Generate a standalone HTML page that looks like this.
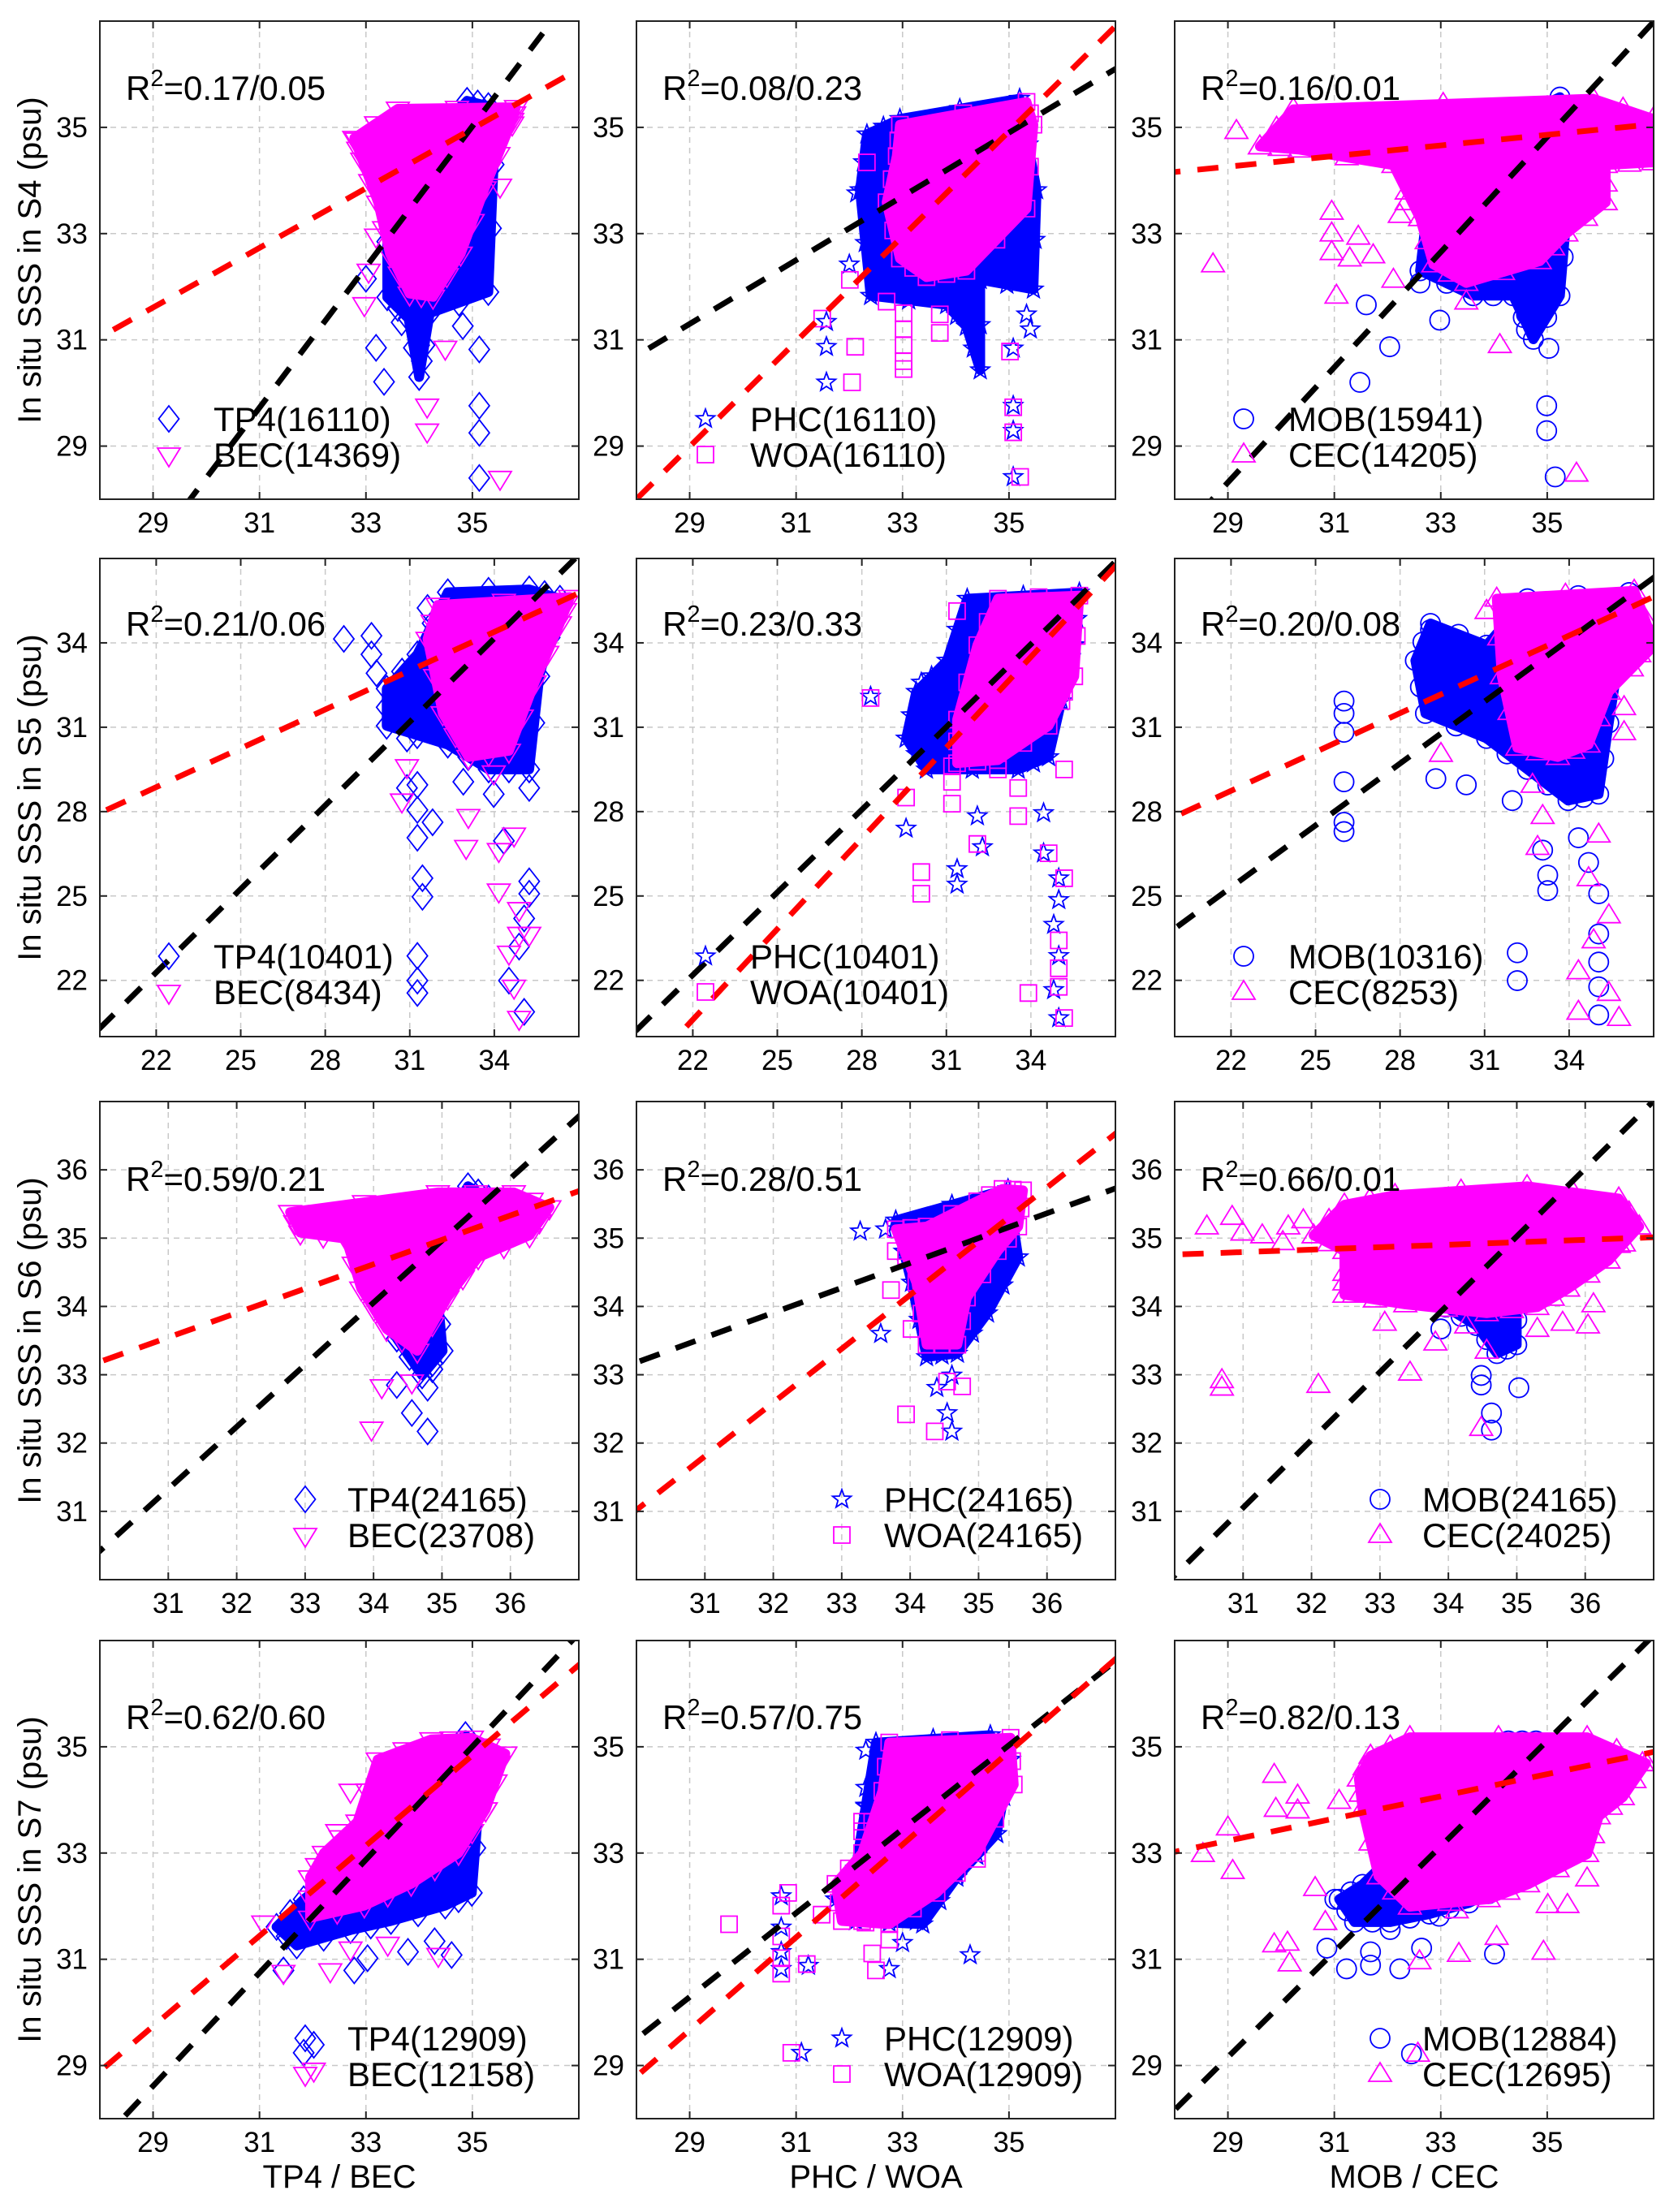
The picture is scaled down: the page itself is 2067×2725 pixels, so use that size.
<!DOCTYPE html>
<html><head><meta charset="utf-8"><title>SSS scatter comparison</title>
<style>
html,body{margin:0;padding:0;background:#fff;}
svg{display:block;font-family:"Liberation Sans",Arial,sans-serif;}
</style></head>
<body>
<svg id="fig" xmlns="http://www.w3.org/2000/svg" width="2067" height="2725" viewBox="0 0 2067 2725"></svg>
<script>
// ---------- axis ranges / ticks per row ----------
const rowRanges = [[28,37],[20,37],[30,37],[28,37]];
const rowTicks = [[29,31,33,35],[22,25,28,31,34],[31,32,33,34,35,36],[29,31,33,35]];
const rowLabels = ["S4","S5","S6","S7"];
const colTitles = ["TP4 / BEC","PHC / WOA","MOB / CEC"];
const colSeries = [["TP4","BEC"],["PHC","WOA"],["MOB","CEC"]];
const colMarkers = [["diamond","tridown"],["star","square"],["circle","triup"]];
const r2Values = [["0.17/0.05","0.08/0.23","0.16/0.01"],["0.21/0.06","0.23/0.33","0.20/0.08"],["0.59/0.21","0.28/0.51","0.66/0.01"],["0.62/0.60","0.57/0.75","0.82/0.13"]];
const counts = [[[16110,14369],[16110,16110],[15941,14205]],[[10401,8434],[10401,10401],[10316,8253]],[[24165,23708],[24165,24165],[24165,24025]],[[12909,12158],[12909,12909],[12884,12695]]];
// regression lines: [slope, intercept]
const blackFits = [[[1.324,-11.32],[0.6,13.9],[1.084,-3.12]],[[0.99,0.5],[0.98,0.63],[0.734,9.16]],[[0.909,3.15],[0.364,22.26],[0.993,0.27]],[[1.065,-2.27],[0.79,7.38],[0.993,0.36]]];
const redFits = [[[0.561,15.34],[0.989,0.31],[0.1,31.36]],[[0.46,18.75],[1.075,-3.05],[0.46,18.62]],[[0.357,22.48],[0.787,7.41],[0.036,33.68]],[[0.85,5.09],[0.873,4.35],[0.209,27.17]]];

// ---------- point data (x = product, y = in situ) ----------
const p11BlueCore=[[33.4,33.9],[34.9,35.5],[35.3,35.4],[35.4,34.3],[35.3,31.9],[34.2,31.5],[34.0,30.3],[33.8,31.4],[33.4,31.8]];
const p11MagCore=[[32.78,34.8],[33.6,35.35],[35.82,35.38],[35.75,35.14],[35.23,33.85],[34.78,32.62],[34.26,31.81],[33.82,31.87],[33.45,32.62],[33.23,33.58],[32.93,34.39]];
const p11Blue=[[33.19,30.85],[33.34,30.21],[35.13,30.82],[35.13,29.76],[35.13,29.25],[35.13,28.4],[33.0,32.15],[33.67,31.33],[34.82,31.26],[34.34,31.74],[34.05,30.6],[34.0,30.9]];
const p11Mag=[[32.97,31.67],[32.82,34.77],[34.49,30.85],[34.15,29.76],[34.15,29.29],[35.52,28.4],[35.75,35.07],[35.52,33.9],[33.19,32.96],[33.05,32.3]];
const p12BlueCore=[[32.33,34.87],[32.95,35.16],[35.2,35.54],[35.52,33.82],[35.46,31.95],[34.46,32.13],[34.46,30.43],[34.2,31.25],[33.83,31.66],[32.4,31.83],[32.2,33.82]];
const p12MagCore=[[32.95,35.05],[35.33,35.48],[35.46,35.05],[35.33,33.47],[34.2,32.3],[33.45,32.18],[32.95,32.53],[32.7,33.59],[32.89,34.46]];
const p12Blue=[[31.57,31.34],[31.57,30.87],[31.57,30.2],[35.08,30.84],[35.08,29.76],[35.08,29.29],[35.08,28.42],[35.33,31.48],[32.0,32.42],[32.14,33.76],[34.02,31.69],[35.4,31.2]];
const p12Mag=[[31.49,31.4],[32.11,30.87],[32.05,30.2],[33.02,31.5],[33.02,31.2],[33.02,30.9],[33.02,30.6],[33.02,30.45],[33.7,31.13],[33.7,31.48],[35.21,28.42],[35.08,29.73],[35.08,29.26],[35.02,30.78],[32.33,34.34],[32.01,32.13],[32.7,31.72]];
const p13BlueCore=[[32.86,34.46],[35.24,35.57],[35.36,33.29],[35.24,31.83],[34.74,31.01],[34.36,31.83],[33.61,31.83],[32.61,32.3]];
const p13MagCore=[[30.23,35.34],[35.86,35.54],[36.99,35.16],[36.99,34.34],[36.1,34.29],[36.1,33.59],[35.36,33.0],[34.86,32.48],[33.48,32.07],[32.86,32.42],[32.61,33.29],[32.11,34.29],[30.35,34.58],[29.6,34.64]];
const p13Blue=[[31.6,31.66],[32.04,30.87],[31.48,30.2],[32.98,31.37],[34.99,29.76],[34.99,29.29],[35.15,28.42],[35.03,30.84],[32.61,32.07],[34.61,31.48],[34.61,31.19]];
const p13Mag=[[28.72,32.42],[29.16,34.93],[30.95,33.41],[30.95,33.0],[30.95,32.65],[31.45,32.94],[31.29,32.53],[31.73,32.59],[31.04,31.83],[32.11,32.13],[33.48,31.72],[34.11,30.9],[35.55,28.48],[32.36,33.59],[32.23,33.35]];
const p21BlueCore=[[32.35,35.8],[35.24,35.9],[36.33,35.57],[35.6,32.81],[35.24,29.5],[33.8,29.5],[32.35,30.38],[30.18,31.05],[30.18,32.37],[31.27,33.59]];
const p21MagCore=[[31.99,35.35],[36.69,35.63],[36.33,34.69],[35.43,32.59],[34.52,30.16],[33.08,29.94],[32.17,31.49],[31.63,34.14]];
const p21Blue=[[28.66,34.14],[29.64,34.25],[29.64,33.59],[29.82,32.92],[31.63,35.24],[31.27,31.49],[30.9,30.6],[31.27,28.95],[31.27,28.06],[31.27,27.07],[31.45,25.63],[31.45,24.97],[31.27,22.87],[31.27,21.99],[31.27,21.55],[32.9,29.06],[33.98,28.62],[34.34,26.96],[35.24,28.84],[35.24,25.52],[35.24,25.08],[35.06,24.2],[34.88,23.2],[34.52,21.99],[35.06,20.88],[30.9,28.84],[31.81,27.62]];
const p21Mag=[[30.72,28.39],[30.9,29.61],[33.08,27.84],[33.0,26.74],[33.98,29.39],[34.16,26.63],[34.7,27.18],[34.16,25.19],[34.88,24.53],[34.88,23.65],[34.52,22.98],[34.7,21.77],[34.88,20.66],[35.24,23.65],[35.43,32.59]];
const p22BlueCore=[[31.74,35.57],[35.72,35.79],[35.54,33.92],[34.63,29.94],[33.55,29.5],[30.29,29.5],[29.57,30.6],[29.93,32.26],[31.02,33.37]];
const p22MagCore=[[32.83,35.57],[35.72,35.68],[35.54,32.81],[34.63,31.05],[32.83,29.83],[31.38,29.72],[31.38,31.27],[32.1,33.92]];
const p22Blue=[[28.31,32.09],[30.11,32.59],[29.57,27.4],[31.38,25.41],[31.38,25.96],[32.28,26.74],[34.45,27.95],[34.45,26.52],[34.99,25.63],[34.99,24.86],[34.81,23.98],[34.99,22.87],[34.81,21.66],[34.99,20.66],[32.1,27.84]];
const p22Mag=[[28.31,32.04],[29.57,28.5],[31.2,29.61],[31.2,29.06],[31.2,28.28],[30.11,25.85],[30.11,25.08],[32.1,26.85],[32.83,29.5],[33.55,28.84],[33.55,27.84],[34.63,26.52],[35.18,32.26],[35.18,29.5],[35.18,25.63],[34.99,23.42],[34.99,22.43],[34.99,21.77],[33.91,21.55],[35.18,20.66],[31.38,35.13]];
const p23BlueCore=[[31.07,33.92],[32.52,35.57],[36.13,35.79],[35.41,31.15],[35.05,28.62],[33.96,28.39],[32.52,29.5],[31.07,30.6],[28.9,31.49],[28.54,33.37],[29.08,34.69]];
const p23MagCore=[[31.43,35.57],[36.31,35.85],[37.04,33.92],[35.41,32.26],[34.69,30.38],[33.6,29.94],[32.16,30.27],[31.61,32.81]];
const p23Blue=[[26.01,31.93],[26.01,31.49],[26.01,30.82],[26.01,29.06],[26.01,27.62],[26.01,27.29],[29.08,34.47],[30.35,28.95],[29.27,29.17],[31.98,28.39],[33.06,26.63],[33.24,25.74],[33.24,25.19],[34.33,27.07],[34.69,26.19],[35.05,25.08],[35.05,23.65],[32.16,22.98],[32.16,21.99],[35.05,22.65],[35.05,21.77],[35.05,20.77],[34.33,28.84]];
const p23Mag=[[31.07,35.13],[31.98,35.24],[29.45,30.05],[32.7,28.95],[33.06,27.84],[32.88,26.74],[35.05,27.18],[34.69,25.63],[35.41,24.31],[34.87,23.42],[34.33,22.32],[35.41,21.55],[34.33,20.88],[35.77,20.66],[36.49,33.59],[35.95,31.71],[35.95,30.82],[36.49,34.69]];
const p31BlueCore=[[35.38,35.76],[35.68,35.58],[34.94,34.13],[35.01,33.35],[34.71,32.99],[34.34,33.53],[34.19,33.9]];
const p31MagCore=[[32.78,35.38],[34.94,35.67],[36.05,35.67],[36.57,35.45],[36.28,35.04],[35.53,34.72],[35.08,34.13],[34.64,33.35],[34.19,33.67],[33.82,34.26],[33.6,34.99],[32.93,35.08]];
const p31Blue=[[34.79,32.81],[34.56,32.44],[34.79,32.17],[34.86,33.08],[34.34,32.85]];
const p31Mag=[[34.12,32.83],[33.97,32.21],[34.56,32.9],[36.28,35.35]];
const p32BlueCore=[[33.79,35.26],[35.43,35.72],[35.58,34.72],[35.13,33.9],[34.69,33.31],[34.24,33.26],[34.02,34.35]];
const p32MagCore=[[34.24,35.17],[34.98,35.54],[35.35,35.72],[35.65,35.7],[35.58,35.17],[35.28,34.81],[34.83,34.13],[34.69,33.44],[34.24,33.44],[34.09,34.35],[33.79,35.13]];
const p32Blue=[[33.27,35.1],[33.64,35.13],[33.57,33.6],[34.39,32.81],[34.54,32.44],[34.61,32.17],[34.61,32.99],[35.13,34.28]];
const p32Mag=[[33.72,34.24],[33.79,34.81],[34.02,33.67],[33.94,32.42],[34.36,32.17],[34.54,32.9],[34.76,32.83]];
const p33BlueCore=[[34.11,34.17],[35.0,34.17],[35.0,33.44],[34.71,33.31],[34.41,33.72],[33.96,33.99]];
const p33MagCore=[[32.48,35.49],[33.22,35.63],[35.15,35.76],[36.49,35.58],[36.79,35.17],[36.34,34.67],[35.75,34.26],[35.3,33.99],[34.56,33.9],[33.37,34.03],[32.48,34.17],[32.48,34.81],[32.03,35.04]];
const p33Blue=[[33.89,33.67],[34.48,32.99],[34.48,32.85],[35.03,32.81],[34.63,32.44],[34.63,32.19],[34.26,33.94]];
const p33Mag=[[30.47,35.17],[30.69,32.92],[30.69,32.81],[32.1,32.85],[33.44,33.03],[33.07,33.76],[33.81,33.47],[34.48,32.22],[34.26,33.72],[35.3,33.67],[35.67,33.76],[36.04,33.72],[36.12,34.03],[30.99,35.08],[31.28,35.04],[31.66,35.17],[30.84,35.31],[31.58,34.94],[31.88,35.26],[32.62,34.17],[32.48,34.35],[36.49,34.9],[34.56,33.35]];
const p41BlueCore=[[33.6,34.35],[34.87,35.22],[35.12,33.94],[34.99,32.25],[34.49,32.01],[33.47,31.72],[32.71,31.55],[31.7,31.26],[31.32,31.61],[31.83,32.13],[32.97,33.0]];
const p41MagCore=[[33.22,34.76],[34.23,35.14],[34.99,35.17],[35.62,34.87],[35.25,33.82],[34.74,33.0],[33.85,32.42],[32.97,32.01],[31.95,31.78],[31.95,32.54],[32.21,33.0],[32.84,33.59]];
const p41Blue=[[31.45,30.79],[32.02,29.39],[31.83,29.24],[32.78,30.79],[33.03,31.02],[33.79,31.14],[34.29,31.34],[34.61,31.08],[34.87,32.48],[34.74,32.6]];
const p41Mag=[[31.07,31.69],[31.45,30.76],[32.33,30.79],[32.71,31.2],[33.41,31.29],[34.36,31.08],[32.02,28.92],[32.46,33.41],[32.71,34.17],[35.5,34.7],[35.25,33.82]];
const p42BlueCore=[[32.5,35.08],[34.65,35.22],[35.03,34.76],[34.77,33.36],[34.02,32.54],[33.38,31.66],[32.12,31.72],[31.74,32.13],[32.12,32.71]];
const p42MagCore=[[32.75,35.08],[35.03,35.17],[35.09,34.29],[34.4,33.0],[33.64,32.25],[32.75,31.66],[31.86,31.72],[31.74,32.42],[32.24,33.0],[32.62,34.17]];
const p42Blue=[[32.31,34.93],[32.31,34.23],[32.31,33.88],[30.72,32.19],[30.72,31.6],[30.72,31.14],[30.72,30.82],[31.23,30.88],[32.75,30.82],[33.0,31.31],[34.27,31.08],[31.1,29.24],[34.02,32.6],[33.26,31.72]];
const p42Mag=[[29.74,31.66],[30.72,32.01],[30.85,32.25],[30.72,31.43],[30.72,31.02],[30.72,30.73],[31.2,30.91],[31.48,31.84],[32.24,31.72],[32.43,31.11],[32.5,30.79],[32.75,31.37],[30.91,29.24],[32.24,33.59],[34.4,32.89],[32.24,33.41]];
const p43BlueCore=[[32.42,33.27],[33.16,33.27],[34.27,35.11],[34.79,35.11],[34.27,32.41],[33.53,32.06],[32.79,31.85],[32.05,31.7],[31.38,31.7],[31.09,32.13],[31.53,32.41]];
const p43MagCore=[[31.68,34.83],[32.42,35.18],[35.75,35.18],[36.86,34.69],[36.42,34.05],[35.97,33.69],[35.75,32.98],[34.64,32.41],[33.9,32.13],[32.42,31.99],[31.83,32.56],[31.53,33.83],[31.46,34.4]];
const p43Blue=[[31.01,32.13],[30.86,31.21],[31.23,30.82],[31.68,31.14],[31.68,30.89],[32.23,30.82],[32.64,31.21],[32.97,31.81],[34.01,31.1],[32.45,29.22],[32.05,31.56]];
const p43Mag=[[28.53,32.98],[29.0,33.48],[29.09,32.66],[29.87,34.47],[29.9,33.83],[30.31,34.08],[30.31,33.8],[30.64,32.34],[29.87,31.28],[30.12,31.31],[30.16,30.92],[31.09,33.98],[30.83,31.7],[33.34,31.1],[32.6,30.96],[34.05,31.42],[34.93,31.14],[33.3,31.92],[35.01,32.02],[35.38,32.02],[35.75,32.52],[35.08,32.91],[32.57,29.22],[36.79,34.69]];

const panelData = [
 [[p11BlueCore,p11MagCore,p11Blue,p11Mag],[p12BlueCore,p12MagCore,p12Blue,p12Mag],[p13BlueCore,p13MagCore,p13Blue,p13Mag]],
 [[p21BlueCore,p21MagCore,p21Blue,p21Mag],[p22BlueCore,p22MagCore,p22Blue,p22Mag],[p23BlueCore,p23MagCore,p23Blue,p23Mag]],
 [[p31BlueCore,p31MagCore,p31Blue,p31Mag],[p32BlueCore,p32MagCore,p32Blue,p32Mag],[p33BlueCore,p33MagCore,p33Blue,p33Mag]],
 [[p41BlueCore,p41MagCore,p41Blue,p41Mag],[p42BlueCore,p42MagCore,p42Blue,p42Mag],[p43BlueCore,p43MagCore,p43Blue,p43Mag]]
];

const NS="http://www.w3.org/2000/svg";
const svg=document.getElementById('fig');
const colLeft=[123,784,1447], rowTop=[26,688,1357,2021], PW=590, PH=589;
const r2Off=[97,95,110,109];
const BLUE="#0000ff", MAG="#ff00ff";
function mk(tag,attrs,parent){const e=document.createElementNS(NS,tag);for(const k in attrs)e.setAttribute(k,attrs[k]);(parent||svg).appendChild(e);return e;}

function markerPath(type,cx,cy){
  if(type==="diamond")return `M${cx},${cy-16}L${cx+12.5},${cy}L${cx},${cy+16}L${cx-12.5},${cy}Z`;
  if(type==="tridown")return `M${cx-14},${cy-8}L${cx+14},${cy-8}L${cx},${cy+15}Z`;
  if(type==="triup")return `M${cx-14},${cy+9}L${cx+14},${cy+9}L${cx},${cy-14}Z`;
  if(type==="square")return `M${cx-10},${cy-10}h20v20h-20Z`;
  if(type==="circle")return `M${cx-12},${cy}a12,12 0 1,0 24,0a12,12 0 1,0 -24,0Z`;
  if(type==="star"){let d="";for(let i=0;i<10;i++){const r=i%2?5:12;const a=-Math.PI/2+i*Math.PI/5;d+=(i?"L":"M")+(cx+r*Math.cos(a)).toFixed(1)+","+(cy+r*Math.sin(a)).toFixed(1);}return d+"Z";}
}

let defs=mk('defs',{});
for(let r=0;r<4;r++){
  const [vmin,vmax]=rowRanges[r];
  for(let c=0;c<3;c++){
    const L=colLeft[c],T=rowTop[r];
    const sx=v=>L+(v-vmin)/(vmax-vmin)*PW;
    const sy=v=>T+(vmax-v)/(vmax-vmin)*PH;
    const g=mk('g',{});
    
    
    const cid=`clip${r}${c}`;
    const cp=mk('clipPath',{id:cid},defs);mk('rect',{x:L,y:T,width:PW,height:PH},cp);
    rowTicks[r].forEach(t=>{
      const gx=mk('line',{x1:sx(t),x2:sx(t),y1:T,y2:T+PH,stroke:"#c8c8c8","stroke-width":1.5,"stroke-dasharray":"7 6"},g);
      
      const gy=mk('line',{x1:L,x2:L+PW,y1:sy(t),y2:sy(t),stroke:"#c8c8c8","stroke-width":1.5,"stroke-dasharray":"7 6"},g);
      
    });
    const pg=mk('g',{"clip-path":`url(#${cid})`},g);
    const [bCore,mCore,bPts,mPts]=panelData[r][c];
    const [bType,mType]=colMarkers[c];
    const drawPt=(x,y,type,col,name)=>{const p=mk('path',{d:markerPath(type,x,y),fill:"none",stroke:col,"stroke-width":1.8},pg);
      };
    const drawCore=(pts,type,col,name)=>{const p=mk('polygon',{points:pts.map(q=>sx(q[0]).toFixed(1)+","+sy(q[1]).toFixed(1)).join(" "),fill:col,stroke:col,"stroke-width":12,"stroke-linejoin":"round"},pg);
      
      pts.forEach((q,i)=>{const n=pts[(i+1)%pts.length];
        drawPt(sx(q[0]),sy(q[1]),type,col,'cloud-edge-point');
        drawPt((sx(q[0])+sx(n[0]))/2,(sy(q[1])+sy(n[1]))/2,type,col,'cloud-edge-point');});};
    const drawPts=(pts,type,col,name)=>{pts.forEach(q=>drawPt(sx(q[0]),sy(q[1]),type,col,name));};
    drawCore(bCore,bType,BLUE,'blue-point-cloud');
    drawPts(bPts,bType,BLUE,'blue-point');
    drawCore(mCore,mType,MAG,'magenta-point-cloud');
    drawPts(mPts,mType,MAG,'magenta-point');
    const fl=(fit,col,name,w)=>{const [m,b]=fit;const x1=vmin-1,x2=vmax+1;
      const l=mk('line',{x1:sx(x1),y1:sy(m*x1+b),x2:sx(x2),y2:sy(m*x2+b),stroke:col,"stroke-width":w,"stroke-dasharray":"26 21"},pg);
      };
    fl(blackFits[r][c],"#000",'black-fit-line',7);
    fl(redFits[r][c],"#ff0000",'red-fit-line',7);
    const fr=mk('rect',{x:L,y:T,width:PW,height:PH,fill:"none",stroke:"#222","stroke-width":2},g);
    
    rowTicks[r].forEach(t=>{
      [[sx(t),T+PH,sx(t),T+PH-9],[sx(t),T,sx(t),T+9]].forEach(a=>{const tk=mk('line',{x1:a[0],y1:a[1],x2:a[2],y2:a[3],stroke:"#222","stroke-width":2},g);});
      [[L,sy(t),L+9,sy(t)],[L+PW,sy(t),L+PW-9,sy(t)]].forEach(a=>{const tk=mk('line',{x1:a[0],y1:a[1],x2:a[2],y2:a[3],stroke:"#222","stroke-width":2},g);});
      const xl=mk('text',{x:sx(t),y:T+PH+41,"font-size":35,"text-anchor":"middle",fill:"#000"},g);xl.textContent=t;
      
      const yl=mk('text',{x:L-15,y:sy(t)+12,"font-size":35,"text-anchor":"end",fill:"#000"},g);yl.textContent=t;
      
    });
    const rt=mk('text',{x:L+32,y:T+r2Off[r],"font-size":42,fill:"#000"},g);
    
    const t1=mk('tspan',{},rt);t1.textContent="R";
    const t2=mk('tspan',{dy:-17,"font-size":29},rt);t2.textContent="2";
    const t3=mk('tspan',{dy:17},rt);t3.textContent="="+r2Values[r][c];
    const right=(r>=2);
    const mx=L+(right?253:85), tx=L+(right?305:140);
    [0,1].forEach(i=>{
      const ly=T+490+i*44;
      const lg=mk('g',{},g);
      
      
      mk('path',{d:markerPath(colMarkers[c][i],mx,ly),fill:"none",stroke:i?MAG:BLUE,"stroke-width":1.8},lg);
      const lt=mk('text',{x:tx,y:ly+15,"font-size":42,fill:"#000"},lg);
      lt.textContent=`${colSeries[c][i]}(${counts[r][c][i]})`;
    });
  }
  const cy=rowTop[r]+PH/2;
  const yt=mk('text',{x:0,y:0,transform:`translate(50,${cy}) rotate(-90)`,"font-size":40,"text-anchor":"middle",fill:"#000"});
  yt.textContent=`In situ SSS in ${rowLabels[r]} (psu)`;
  
  
}
colTitles.forEach((s,c)=>{
  const xt=mk('text',{x:colLeft[c]+PW/2,y:2695,"font-size":40,"text-anchor":"middle",fill:"#000"});
  xt.textContent=s;
  
  
});
</script>
</body></html>
